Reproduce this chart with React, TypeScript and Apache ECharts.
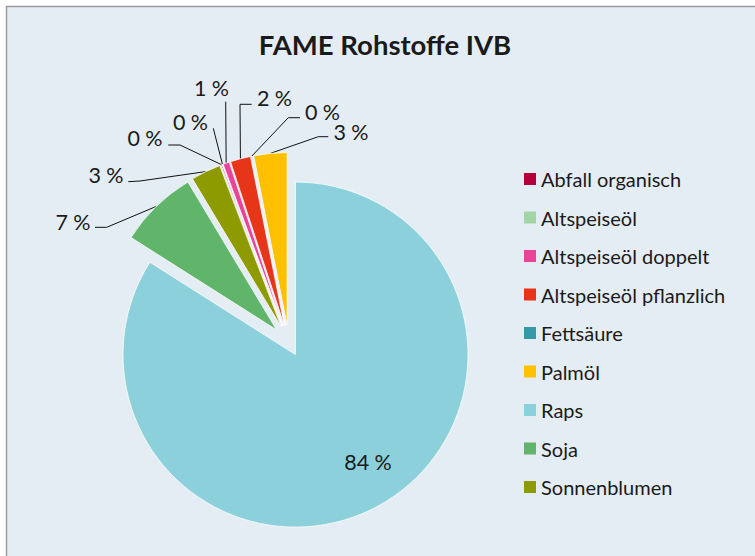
import React, { useEffect, useRef } from "react";
import * as echarts from "echarts";

// ---- data ----
const TITLE = "FAME Rohstoffe IVB";
const CATEGORIES = [
  "Abfall organisch",
  "Altspeiseöl",
  "Altspeiseöl doppelt",
  "Altspeiseöl pflanzlich",
  "Fettsäure",
  "Palmöl",
  "Raps",
  "Soja",
  "Sonnenblumen",
];
const VALUES = [0.1, 0.05, 0.6, 1.9, 0.05, 3.1, 84.0, 7.4, 2.8];
const MAIN_CATEGORY = "Raps";

// ---- styles / layout ----
const COLORS = [
  "#b4003a",
  "#a2d5a6",
  "#ea4498",
  "#e63518",
  "#3499a9",
  "#ffc000",
  "#8bd0da",
  "#60b56a",
  "#8e9b00",
];
const FONT = "Lato, 'Open Sans', sans-serif";
const TEXT_COLOR = "#1a1a1a";
const CENTER = [288.8, 342.4];
const RADIUS = 172.5;
const OFFSET_MAIN = 13.9;
const OFFSET_OTHERS = 17.4;

// label placements (text centre, then leader line elbow/end)
const LABEL_PLACE: Record<string, { x: number; y: number; line?: number[][] }> = {
  "Abfall organisch": { x: 145, y: 138.3, line: [[180, 145], [168.3, 145]] },
  "Altspeiseöl": { x: 190.5, y: 121.7, line: [[213.3, 128.3], [213.3, 128.3]] },
  "Altspeiseöl doppelt": { x: 211.5, y: 88, line: [[225.7, 101.7], [225.7, 101.7]] },
  "Altspeiseöl pflanzlich": { x: 274.5, y: 98, line: [[240, 104.3], [251.7, 104.3]] },
  "Fettsäure": { x: 322.5, y: 111.7, line: [[288.3, 117.7], [300, 117.7]] },
  "Palmöl": { x: 351, y: 131.7, line: [[318.3, 136.7], [328.3, 136.7]] },
  "Raps": { x: 368, y: 461.7 },
  "Soja": { x: 73, y: 221.7, line: [[106.7, 227.3], [95, 227.3]] },
  "Sonnenblumen": { x: 106, y: 175, line: [[140, 181], [128.3, 181.7]] },
};

export default function App() {
  const ref = useRef<HTMLDivElement>(null);

  useEffect(() => {
    if (!ref.current) return;
    const chart = echarts.init(ref.current, undefined, { renderer: "svg" });

    const total = VALUES.reduce((a, b) => a + b, 0);
    const mainIdx = CATEGORIES.indexOf(MAIN_CATEGORY);
    const lead = VALUES.slice(0, mainIdx).reduce((a, b) => a + b, 0);
    const startAngle = 90 + (lead / total) * 360;

    const slicesSeries = (visible: (i: number) => boolean, offset: number) => ({
      type: "pie",
      center: CENTER,
      radius: RADIUS,
      startAngle,
      clockwise: true,
      minAngle: 0,
      avoidLabelOverlap: false,
      selectedMode: "multiple",
      selectedOffset: offset,
      silent: true,
      label: { show: false },
      labelLine: { show: false },
      emphasis: { disabled: true },
      data: CATEGORIES.map((name, i) => ({
        name,
        value: VALUES[i],
        selected: visible(i),
        itemStyle: visible(i)
          ? { color: COLORS[i], borderColor: "#ffffff", borderWidth: 0.75 }
          : { color: "rgba(0,0,0,0)", borderWidth: 0 },
      })),
    });

    const option: any = {
      animation: false,
      backgroundColor: "transparent",
      graphic: [
        {
          type: "rect",
          z: -10,
          silent: true,
          shape: { x: 6.5, y: 6.5, width: 800, height: 600 },
          style: { fill: "#e5edf4", stroke: "#9c9c9c", lineWidth: 1.5 },
        },
      ],
      title: {
        text: TITLE,
        left: 380,
        textAlign: "center",
        top: 25,
        textStyle: {
          fontFamily: FONT,
          fontSize: 27.5,
          fontWeight: "bold",
          color: TEXT_COLOR,
        },
      },
      legend: {
        orient: "vertical",
        left: 524,
        top: 169,
        padding: 0,
        itemWidth: 12,
        itemHeight: 12,
        itemGap: 18.5,
        icon: "rect",
        selectedMode: false,
        textStyle: { fontFamily: FONT, fontSize: 20, color: TEXT_COLOR },
        data: CATEGORIES.map((name, i) => ({
          name,
          itemStyle: { color: COLORS[i], opacity: 1, borderWidth: 0 },
        })),
      },
      series: [
        slicesSeries((i) => i === mainIdx, OFFSET_MAIN),
        slicesSeries((i) => i !== mainIdx, OFFSET_OTHERS),
        {
          type: "pie",
          center: CENTER,
          radius: RADIUS + OFFSET_OTHERS,
          startAngle,
          clockwise: true,
          minAngle: 0,
          avoidLabelOverlap: false,
          silent: true,
          emphasis: { disabled: true },
          itemStyle: { color: "rgba(0,0,0,0)", borderWidth: 0 },
          label: {
            show: true,
            position: "outside",
            formatter: (p: any) => `${Math.round(p.percent)} %`,
            fontFamily: FONT,
            fontSize: 21.5,
            color: TEXT_COLOR,
          },
          labelLine: {
            show: true,
            length: 10,
            length2: 10,
            lineStyle: { color: "#111111", width: 1 },
          },
          labelLayout: (p: any) => {
            const name = CATEGORIES[p.dataIndex];
            const place = LABEL_PLACE[name];
            if (!place) return {};
            const res: any = {
              x: place.x,
              y: place.y,
              align: "center",
              verticalAlign: "middle",
            };
            if (place.line && p.labelLinePoints) {
              res.labelLinePoints = [p.labelLinePoints[0], ...place.line];
            }
            return res;
          },
          data: CATEGORIES.map((name, i) =>
            i === mainIdx
              ? {
                  name,
                  value: VALUES[i],
                  label: { position: "inside" },
                  labelLine: { show: false },
                }
              : { name, value: VALUES[i] }
          ),
        },
      ],
    };

    chart.setOption(option);
    return () => chart.dispose();
  }, []);

  return (
    <div
      ref={ref}
      style={{ position: "absolute", left: 0, top: 0, width: 755, height: 556 }}
    />
  );
}
